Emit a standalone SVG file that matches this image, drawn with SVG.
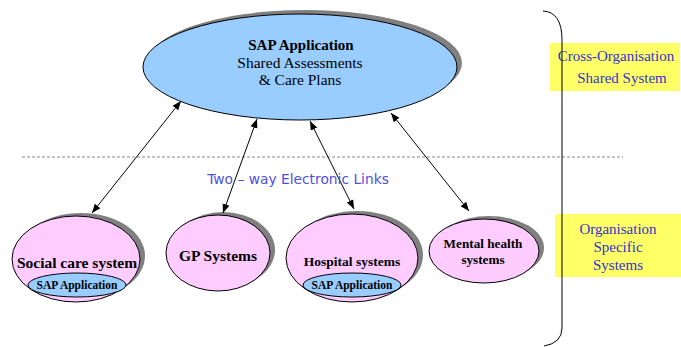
<svg xmlns="http://www.w3.org/2000/svg" width="681" height="347" viewBox="0 0 681 347">
<style>
.sh{fill:#808080;stroke:none}
.blue{fill:#99ccff;stroke:#000;stroke-width:1}
.pink{fill:#ffccff;stroke:#000;stroke-width:1}
.t{font-family:"Liberation Serif","Times New Roman",serif;text-anchor:middle;fill:#000}
.b{font-weight:bold}
.lab{font-family:"Liberation Serif","Times New Roman",serif;text-anchor:middle;fill:#3333cc;font-size:15px}
.box{fill:#ffff66;stroke:none}
.conn line{stroke:#000;stroke-width:1;marker-start:url(#ah);marker-end:url(#ah)}
</style>
<defs>
<marker id="ah" viewBox="0 0 10 10" refX="10" refY="5" markerWidth="9" markerHeight="9" markerUnits="userSpaceOnUse" orient="auto-start-reverse">
<path d="M0,1 L10,5 L0,9 z" fill="#000"/>
</marker>
</defs>
<rect width="681" height="347" fill="#fff"/>

<line x1="22" y1="157" x2="623" y2="157" stroke="#888" stroke-width="1" stroke-dasharray="3,2"/>

<g id="sap-main">
<ellipse class="sh" cx="305" cy="63" rx="157" ry="53"/>
<ellipse class="blue" cx="300" cy="67" rx="157" ry="53"/>
<text class="t b" x="301" y="50" font-size="15">SAP Application</text>
<text class="t" x="300" y="68" font-size="15.5">Shared Assessments</text>
<text class="t" x="300" y="85" font-size="15.5">&amp; Care Plans</text>
</g>

<g id="social-care">
<ellipse class="sh" cx="81" cy="256" rx="64" ry="43"/>
<ellipse class="pink" cx="76" cy="259" rx="64" ry="43"/>
<text class="t b" x="77" y="268" font-size="15.5">Social care system</text>
<ellipse class="blue" cx="77" cy="285" rx="49" ry="12"/>
<text class="t b" x="77" y="289" font-size="11.5">SAP Application</text>
</g>

<g id="gp">
<ellipse class="sh" cx="223" cy="250" rx="52" ry="38"/>
<ellipse class="pink" cx="218" cy="253" rx="52" ry="38"/>
<text class="t b" x="218" y="261" font-size="15.5">GP Systems</text>
</g>

<g id="hospital">
<ellipse class="sh" cx="357" cy="255" rx="66" ry="44"/>
<ellipse class="pink" cx="352" cy="258" rx="66" ry="44"/>
<text class="t b" x="352" y="266" font-size="13.5">Hospital systems</text>
<ellipse class="blue" cx="352" cy="285" rx="49" ry="12"/>
<text class="t b" x="352" y="289" font-size="11.5">SAP Application</text>
</g>

<g id="mental-health">
<ellipse class="sh" cx="489" cy="248" rx="55" ry="32"/>
<ellipse class="pink" cx="484" cy="251" rx="55" ry="32"/>
<text class="t b" x="483" y="248" font-size="13.2">Mental health</text>
<text class="t b" x="483" y="264" font-size="13.2">systems</text>
</g>

<g id="connectors" class="conn">
<line x1="181" y1="101" x2="92" y2="213"/>
<line x1="257" y1="119" x2="223" y2="213"/>
<line x1="310" y1="121" x2="354" y2="209"/>
<line x1="391" y1="113" x2="469" y2="211"/>
</g>

<text x="298" y="184" font-family="'DejaVu Sans',Verdana,sans-serif" font-size="13.8" fill="#5050dd" text-anchor="middle">Two – way Electronic Links</text>

<g id="cross-org">
<rect class="box" x="550" y="43" width="130" height="48"/>
<text class="lab" x="616" y="61">Cross-Organisation</text>
<text class="lab" x="622" y="83">Shared System</text>
</g>

<g id="org-specific">
<rect class="box" x="555" y="214" width="126" height="63"/>
<text class="lab" x="618" y="234">Organisation</text>
<text class="lab" x="618" y="252">Specific</text>
<text class="lab" x="618" y="270">Systems</text>
</g>

<g id="brace">
<path d="M543,11 Q562,12 562,40 L562,328 Q562,343 544,346" fill="none" stroke="#000" stroke-width="1"/>
</g>
</svg>
